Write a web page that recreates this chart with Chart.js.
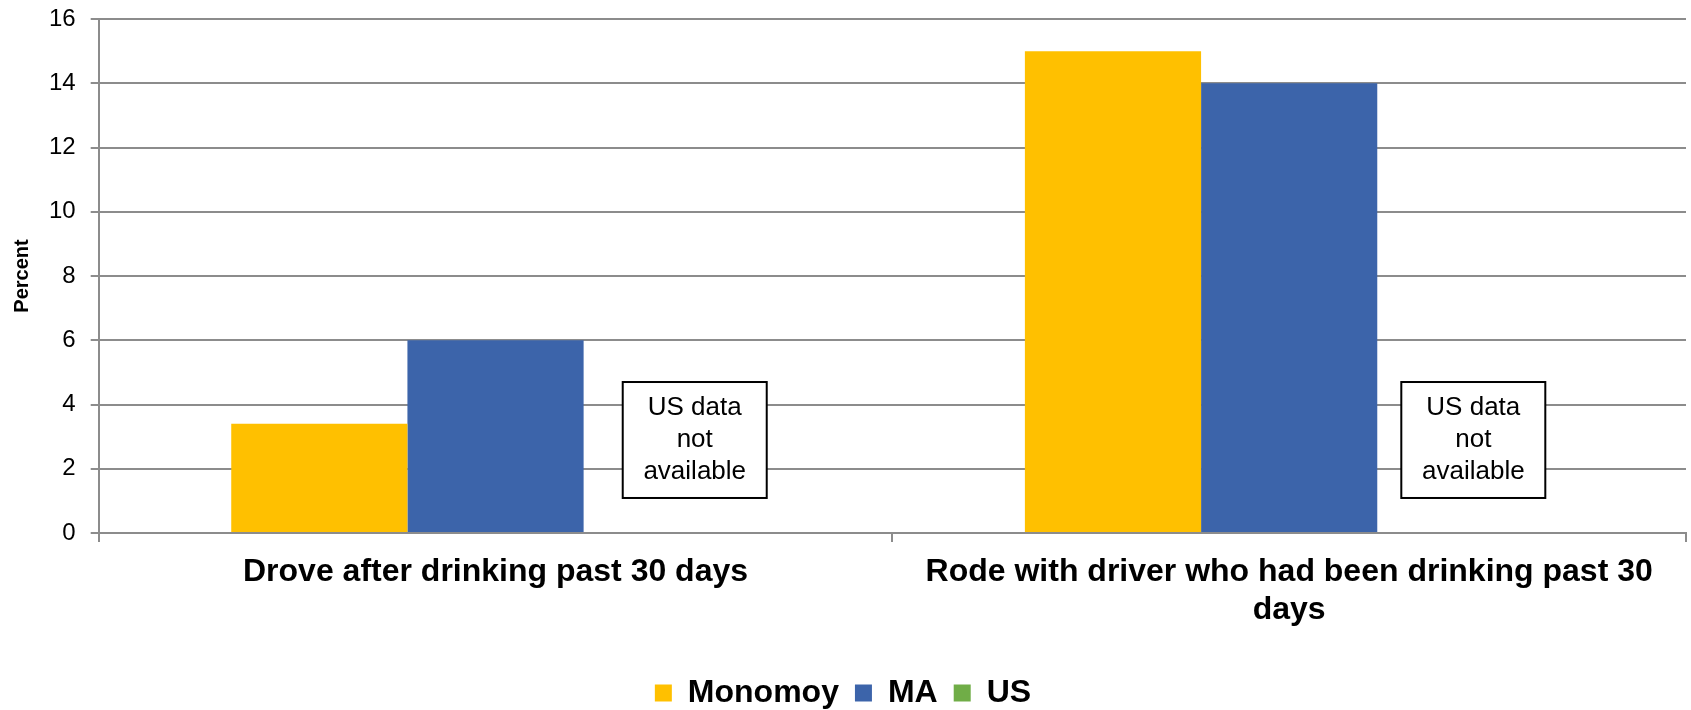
<!DOCTYPE html>
<html>
<head>
<meta charset="utf-8">
<script src="https://cdn.jsdelivr.net/npm/chart.js@4"></script>
<style>
  html, body { margin: 0; padding: 0; background: #fff; }
  #wrap { width: 1691px; height: 710px; }
</style>
</head>
<body>
<div id="wrap"><canvas id="drinkChart"></canvas></div>
<script>
const categories = [
    'Drove after drinking past 30 days',
    ['Rode with driver who had been drinking past 30', 'days']
];
const monomoyValues = [3.4, 15];
const maValues = [6, 14];
const usValues = [null, null];
const yTicks = [0, 2, 4, 6, 8, 10, 12, 14, 16];
const noteLines = ['US data', 'not', 'available'];

const fontFamily = "'Liberation Sans', Arial, sans-serif";
const gridGrey = '#8c8c8c';

// "US data not available" boxes, placed where the US bar would be
const noteShift = [0.251, 0.232];   // fraction of a category width, from category centre
const noteTop = 4.7, noteBottom = 1.09;
const noteWidth = 144;

const usNotes = {
    id: 'usNotes',
    afterDatasetsDraw(chart) {
        const ctx = chart.ctx;
        const x = chart.scales.x, y = chart.scales.y;
        const catW = (x.right - x.left) / categories.length;
        categories.forEach(function (c, i) {
            const cx = x.getPixelForValue(i) + noteShift[i] * catW;
            const top = y.getPixelForValue(noteTop);
            const bottom = y.getPixelForValue(noteBottom);
            ctx.save();
            ctx.fillStyle = '#fff';
            ctx.strokeStyle = '#000';
            ctx.lineWidth = 2;
            ctx.fillRect(cx - noteWidth / 2, top, noteWidth, bottom - top);
            ctx.strokeRect(cx - noteWidth / 2, top, noteWidth, bottom - top);
            ctx.fillStyle = '#000';
            ctx.font = '26px ' + fontFamily;
            ctx.textAlign = 'center';
            ctx.textBaseline = 'middle';
            const cy = (top + bottom) / 2;
            noteLines.forEach(function (t, k) {
                ctx.fillText(t, cx, cy + (k - 1) * 32);
            });
            ctx.restore();
        });
    }
};

const ctx = document.getElementById('drinkChart').getContext('2d');
new Chart(ctx, {
    type: 'bar',
    data: {
        labels: categories,
        datasets: [
            { label: 'Monomoy', data: monomoyValues, backgroundColor: '#FFC000', borderWidth: 0 },
            { label: 'MA', data: maValues, backgroundColor: '#3C64AA', borderWidth: 0 },
            { label: 'US', data: usValues, backgroundColor: '#70AD47', borderWidth: 0 }
        ]
    },
    options: {
        responsive: true,
        maintainAspectRatio: false,
        animation: false,
        datasets: { bar: { categoryPercentage: 0.666, barPercentage: 1 } },
        layout: { padding: { left: 0, right: 5, top: 19, bottom: -9 } },
        scales: {
            x: {
                grid: { drawOnChartArea: false, drawTicks: true, tickLength: 9, color: gridGrey, lineWidth: 2 },
                border: { color: gridGrey, width: 2 },
                ticks: {
                    color: '#000',
                    font: { family: fontFamily, size: 32, weight: 'bold', lineHeight: 1.16 },
                    padding: 12,
                    maxRotation: 0,
                    autoSkip: false
                },
                afterFit: function (scale) { scale.height = 128; }
            },
            y: {
                min: 0,
                max: 16,
                afterBuildTicks: function (scale) {
                    scale.ticks = yTicks.map(function (v) { return { value: v }; });
                },
                // the top label may overhang; layout padding leaves room for it
                afterFit: function (scale) { scale.paddingTop = 0; scale.paddingBottom = 0; },
                grid: { color: gridGrey, lineWidth: 2, tickLength: 8 },
                border: { color: gridGrey, width: 2 },
                ticks: {
                    color: '#000',
                    font: { family: fontFamily, size: 24 },
                    padding: 15
                },
                title: {
                    display: true,
                    text: 'Percent',
                    color: '#000',
                    font: { family: fontFamily, size: 20, weight: 'bold' },
                    padding: { top: 10, bottom: 0 }
                }
            }
        },
        plugins: {
            legend: {
                position: 'bottom',
                labels: {
                    boxWidth: 17,
                    boxHeight: 17,
                    padding: 16,
                    color: '#000',
                    font: { family: fontFamily, size: 32, weight: 'bold' }
                }
            },
            tooltip: { enabled: false }
        }
    },
    plugins: [usNotes]
});
</script>
</body>
</html>
